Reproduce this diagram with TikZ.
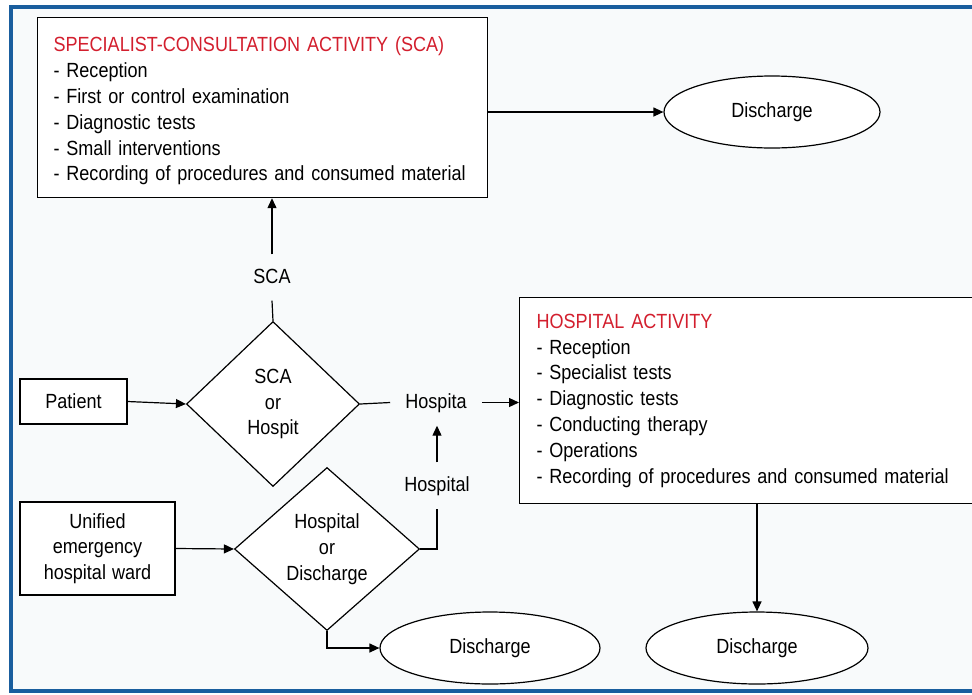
\documentclass[tikz,border=0pt]{standalone}
\usepackage{fontspec}
\setmainfont{Liberation Sans}[FakeStretch=0.88]
\usetikzlibrary{positioning,arrows.meta,shapes.geometric}

\definecolor{frameblue}{HTML}{1A5E9E}
\definecolor{titlered}{HTML}{D31F2E}
\definecolor{paper}{HTML}{F8FAFB}

\begin{document}
\begin{tikzpicture}[x=1pt, y=-1pt,
  font={\fontsize{20.5}{25.8}\selectfont\fontdimen2\font=6pt},
  >={Triangle[length=10pt,width=9pt]},
  box/.style={draw, line width=1.2pt, align=center, fill=white},
  actbox/.style={draw, line width=1.2pt, anchor=north west, align=left, inner xsep=16pt, fill=white},
  decision/.style={draw, diamond, line width=1.2pt, align=center, inner sep=0pt, fill=white},
  endpoint/.style={draw, ellipse, line width=1.2pt, minimum width=216pt, minimum height=72pt, fill=white},
  lbl/.style={text height=15pt, text depth=4pt, inner xsep=15pt, inner ysep=13.5pt},
  link/.style={line width=1.2pt}
]
\useasboundingbox (0,0) rectangle (972,694);

% frame
\draw[frameblue, line width=4pt, fill=paper] (11,7) rectangle (1000,691);

% nodes (manual positions)
\node[actbox, text width=418pt, minimum height=180pt] (scabox) at (37,17) {%
\rule{0pt}{22pt}\textcolor{titlered}{SPECIALIST-CONSULTATION ACTIVITY (SCA)}\\
- Reception\\
- First or control examination\\
- Diagnostic tests\\
- Small interventions\\
- Recording of procedures and consumed material};
\node[endpoint] (dis1) at (772,112) {Discharge};

\node[lbl] (scalbl) at (272,277.5) {SCA};
\node[decision, minimum width=173pt, minimum height=165pt] (dia1) at (273,404) {SCA\\or\\Hospit};
\node[box, minimum width=107pt, minimum height=45pt] (patient) at (73.5,401.5) {Patient};

\node[lbl] (hosp1lbl) at (436,402.5) {Hospita};
\node[lbl] (hosp2lbl) at (437,485.5) {Hospital};

\node[actbox, text width=468pt, minimum height=206pt, inner xsep=17pt] (hospbox) at (519,297) {%
\textcolor{titlered}{HOSPITAL ACTIVITY}\\
- Reception\\
- Specialist tests\\
- Diagnostic tests\\
- Conducting therapy\\
- Operations\\
- Recording of procedures and consumed material};

\node[box, minimum width=155pt, minimum height=93pt] (unified) at (97.5,548.5) {Unified\\emergency\\hospital ward};
\node[decision, minimum width=185pt, minimum height=163pt] (dia2) at (327,549) {Hospital\\or\\Discharge};

\node[endpoint, minimum width=220pt] (dis2) at (490,648) {Discharge};
\node[endpoint, minimum width=222pt] (dis3) at (757,648) {Discharge};

% edges
\draw[link,->] (scabox.east |- dis1.west) -- (dis1.west);
\draw[link,->] (scalbl.north) -- (scalbl.north |- scabox.south);
\draw[link] (dia1.north) -- (scalbl.south);
\draw[link,->] (patient.east) -- (dia1.west);
\draw[link] (dia1.east) -- (hosp1lbl.west);
\draw[link,->] (hosp1lbl.east) -- (hosp1lbl.east -| hospbox.west);
\draw[link,->] (hosp2lbl.north) -- (hosp2lbl.north |- hosp1lbl.south);
\draw[link] (dia2.east) -| (hosp2lbl.south);
\draw[link,->] (unified.east) -- (dia2.west);
\draw[link,->] (dia2.south) |- (dis2.west);
\draw[link,->] (hospbox.south -| dis3.north) -- (dis3.north);

\end{tikzpicture}
\end{document}
